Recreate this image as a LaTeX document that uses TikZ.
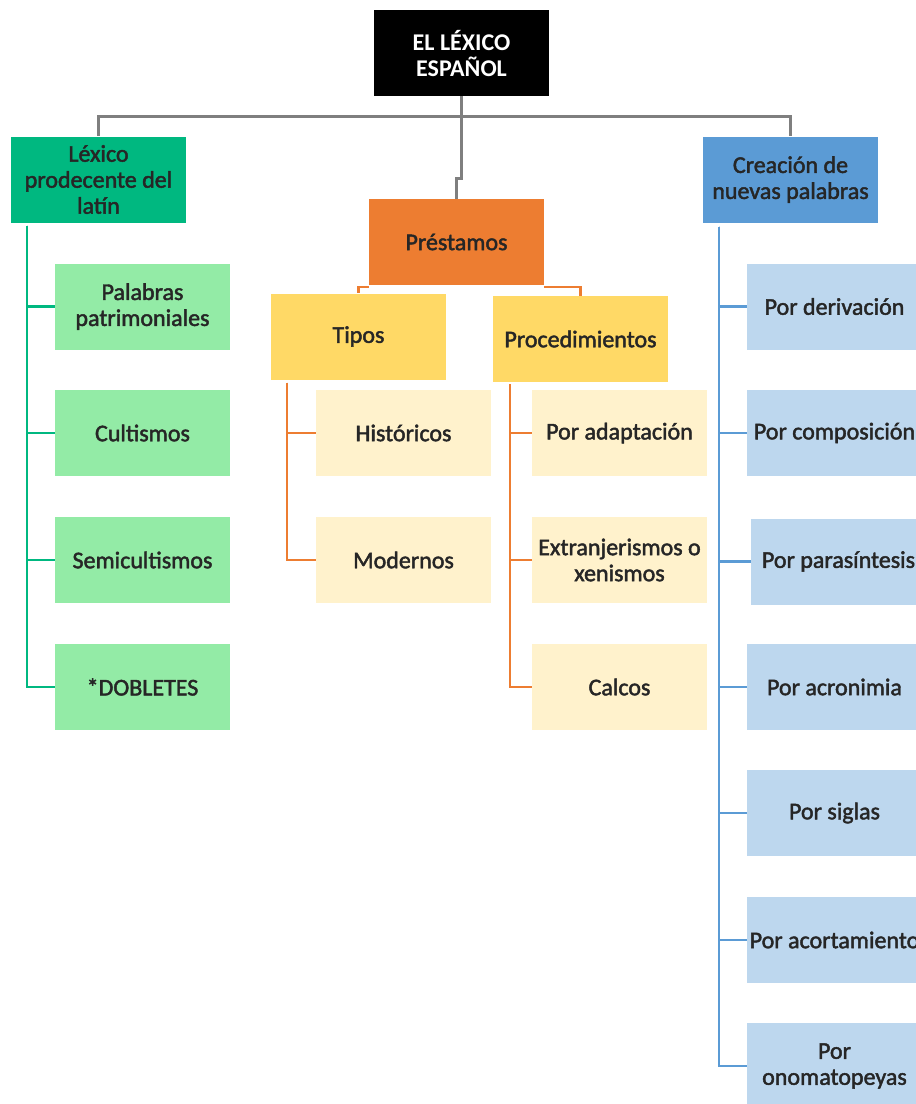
\documentclass[tikz,border=0pt]{standalone}
\usepackage{fontspec}
\setmainfont{Carlito}
\usepackage{tikz}

\definecolor{linegray}{HTML}{7F7F7F}
\definecolor{latgreen}{HTML}{00B880}
\definecolor{lightgreen}{HTML}{93EBA6}
\definecolor{presorange}{HTML}{ED7D31}
\definecolor{tipoyellow}{HTML}{FFD966}
\definecolor{lightyellow}{HTML}{FFF2CC}
\definecolor{creablue}{HTML}{5B9BD5}
\definecolor{lightblue}{HTML}{BDD7EE}

% outlined text, as in the original chart
\newcommand{\outl}[1]{\special{pdf:code 2 Tr 0.45 w}#1\special{pdf:code 0 Tr}}

\begin{document}
\begin{tikzpicture}[x=1pt,y=-1pt,
  box/.style={minimum width=175pt,minimum height=86pt,inner sep=0pt,
    align=center,text=black!85,font=\fontsize{24}{26}\selectfont},
  gray line/.style={draw=linegray,line width=3pt},
  green line/.style={draw=latgreen,line width=2.5pt},
  orange line/.style={draw=presorange,line width=2.5pt},
  blue line/.style={draw=creablue,line width=2.5pt}]

\path[use as bounding box,fill=white] (0,0) rectangle (916,1104);

% top level
\node[box,fill=black,text=white,font=\bfseries\fontsize{24}{26}\selectfont] (root) at (461.5,53) {EL LÉXICO\\ESPAÑOL};
\node[box,fill=latgreen] (lat) at (98.5,179.5) {\outl{Léxico}\\\outl{prodecente del}\\\outl{latín}};
\node[box,fill=presorange] (pres) at (456.5,242) {\outl{Préstamos}};
\node[box,fill=creablue] (crea) at (790.5,179.5) {\outl{Creación de}\\\outl{nuevas palabras}};

% latin branch
\node[box,fill=lightgreen] (pal) at (142.5,306.5) {\outl{Palabras}\\\outl{patrimoniales}};
\node[box,fill=lightgreen] (cult) at (142.5,433) {\outl{Cultismos}};
\node[box,fill=lightgreen] (semi) at (142.5,560) {\outl{Semicultismos}};
\node[box,fill=lightgreen] (dob) at (142.5,687) {\outl{*DOBLETES}};

% prestamos branch
\node[box,fill=tipoyellow] (tipos) at (358.5,336.5) {\outl{Tipos}};
\node[box,fill=tipoyellow] (proc) at (580.5,339) {\outl{Procedimientos}};
\node[box,fill=lightyellow] (hist) at (403.5,433) {\outl{Históricos}};
\node[box,fill=lightyellow] (mod) at (403.5,560) {\outl{Modernos}};
\node[box,fill=lightyellow] (adap) at (619.5,433) {\outl{Por adaptación}};
\node[box,fill=lightyellow] (extr) at (619.5,560) {\outl{Extranjerismos o}\\\outl{xenismos}};
\node[box,fill=lightyellow] (calc) at (619.5,687) {\outl{Calcos}};

% creacion branch
\node[box,fill=lightblue] (deri) at (834.5,306.5) {\outl{Por derivación}};
\node[box,fill=lightblue] (comp) at (834.5,433) {\outl{Por composición}};
\node[box,fill=lightblue] (para) at (838.5,561.5) {\outl{Por parasíntesis}};
\node[box,fill=lightblue] (acro) at (834.5,687) {\outl{Por acronimia}};
\node[box,fill=lightblue] (sigl) at (834.5,813) {\outl{Por siglas}};
\node[box,fill=lightblue] (acor) at (834.5,940) {\outl{Por acortamiento}};
\node[box,fill=lightblue] (onom) at (834.5,1066) {\outl{Por}\\\outl{onomatopeyas}};

% connectors
\draw[gray line] (root.south) -- ++(0,20) -| (lat.north);
\draw[gray line] (root.south) -- ++(0,20) -| (crea.north);
\draw[gray line] (root.south) -- ++(0,82) -| (pres.north);

\draw[orange line] (pres.south west) ++(0,2) -| (tipos.north);
\draw[orange line] (pres.south east) ++(0,2) -| (proc.north);

\coordinate (latbus) at ([shift={(16,3)}]lat.south west);
\coordinate (tiposbus) at ([shift={(16,3)}]tipos.south west);
\coordinate (procbus) at ([shift={(17,2)}]proc.south west);
\coordinate (creabus) at ([shift={(16,4)}]crea.south west);

\foreach \n in {pal,cult,semi,dob}
  \draw[green line] (latbus) |- (\n.west);
\foreach \n in {hist,mod}
  \draw[orange line] (tiposbus) |- (\n.west);
\foreach \n in {adap,extr,calc}
  \draw[orange line] (procbus) |- (\n.west);
\foreach \n in {deri,comp,para,acro,sigl,acor,onom}
  \draw[blue line] (creabus) |- (\n.west);

\end{tikzpicture}
\end{document}
